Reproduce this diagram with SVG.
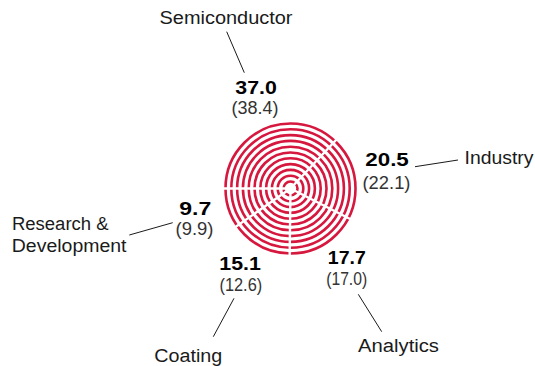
<svg xmlns="http://www.w3.org/2000/svg" width="535" height="366" viewBox="0 0 535 366">
<style>
  .ring{fill:none;stroke:#d6173e;stroke-width:2.6}
  .sep{stroke:#ffffff;stroke-width:2.4;stroke-linecap:butt}
  .lead{stroke:#1a1a1a;stroke-width:1;fill:none}
  .lab{font-family:"Liberation Sans",Arial,sans-serif;font-size:18px;fill:#1a1a1a}
  .val{font-family:"Liberation Sans",Arial,sans-serif;font-size:18.5px;font-weight:bold;fill:#000}
  .prev{font-family:"Liberation Sans",Arial,sans-serif;font-size:18px;fill:#333}
</style>
<rect width="535" height="366" fill="#ffffff"/>
<g id="chart">
  <g id="rings">
    <circle class="ring" cx="290.5" cy="188.5" r="7"/>
    <circle class="ring" cx="290.5" cy="188.5" r="12.8"/>
    <circle class="ring" cx="290.5" cy="188.5" r="18.6"/>
    <circle class="ring" cx="290.5" cy="188.5" r="24.4"/>
    <circle class="ring" cx="290.5" cy="188.5" r="30.2"/>
    <circle class="ring" cx="290.5" cy="188.5" r="36"/>
    <circle class="ring" cx="290.5" cy="188.5" r="41.8"/>
    <circle class="ring" cx="290.5" cy="188.5" r="47.6"/>
    <circle class="ring" cx="290.5" cy="188.5" r="53.4"/>
    <circle class="ring" cx="290.5" cy="188.5" r="59.2"/>
    <circle class="ring" cx="290.5" cy="188.5" r="65"/>
  </g>
  <g id="separators">
    <line class="sep" x1="290.5" y1="188.5" x2="218.5" y2="188.5"/>
    <line class="sep" x1="290.5" y1="188.5" x2="339.8" y2="136.0"/>
    <line class="sep" x1="290.5" y1="188.5" x2="354.6" y2="221.2"/>
    <line class="sep" x1="290.5" y1="188.5" x2="289.6" y2="260.5"/>
    <line class="sep" x1="290.5" y1="188.5" x2="231.5" y2="229.7"/>
  </g>
</g>
<g id="connectors">
  <line class="lead" x1="226.7" y1="31.7" x2="244.3" y2="72.7"/>
  <line class="lead" x1="415" y1="166.7" x2="458" y2="160"/>
  <line class="lead" x1="129.3" y1="235" x2="172.7" y2="222.7"/>
  <line class="lead" x1="234" y1="298.3" x2="213.3" y2="336.7"/>
  <line class="lead" x1="358.3" y1="294.3" x2="381.7" y2="331.7"/>
</g>
<g id="semiconductor">
  <text class="lab" x="159.5" y="24" textLength="133" lengthAdjust="spacingAndGlyphs">Semiconductor</text>
  <text class="val" x="235.3" y="94.3" textLength="41.5" lengthAdjust="spacingAndGlyphs">37.0</text>
  <text class="prev" x="231.5" y="113.5" textLength="47" lengthAdjust="spacingAndGlyphs">(38.4)</text>
</g>
<g id="industry">
  <text class="lab" x="464.5" y="163.5" textLength="69" lengthAdjust="spacingAndGlyphs">Industry</text>
  <text class="val" x="365.3" y="166" textLength="43.5" lengthAdjust="spacingAndGlyphs">20.5</text>
  <text class="prev" x="362.5" y="188.5" textLength="48" lengthAdjust="spacingAndGlyphs">(22.1)</text>
</g>
<g id="analytics">
  <text class="lab" x="358" y="351.5" textLength="81" lengthAdjust="spacingAndGlyphs">Analytics</text>
  <text class="val" x="327.8" y="263.5" textLength="38" lengthAdjust="spacingAndGlyphs">17.7</text>
  <text class="prev" x="326.2" y="284.5" textLength="41" lengthAdjust="spacingAndGlyphs">(17.0)</text>
</g>
<g id="coating">
  <text class="lab" x="154.3" y="361.5" textLength="68" lengthAdjust="spacingAndGlyphs">Coating</text>
  <text class="val" x="219.3" y="270" textLength="41.5" lengthAdjust="spacingAndGlyphs">15.1</text>
  <text class="prev" x="219.5" y="291" textLength="42.7" lengthAdjust="spacingAndGlyphs">(12.6)</text>
</g>
<g id="research-development">
  <text class="lab" x="12" y="230" textLength="96.5" lengthAdjust="spacingAndGlyphs">Research &amp;</text>
  <text class="lab" x="11.8" y="251.5" textLength="114.7" lengthAdjust="spacingAndGlyphs">Development</text>
  <text class="val" x="179.3" y="215" textLength="32" lengthAdjust="spacingAndGlyphs">9.7</text>
  <text class="prev" x="175.5" y="234.5" textLength="38" lengthAdjust="spacingAndGlyphs">(9.9)</text>
</g>
</svg>
